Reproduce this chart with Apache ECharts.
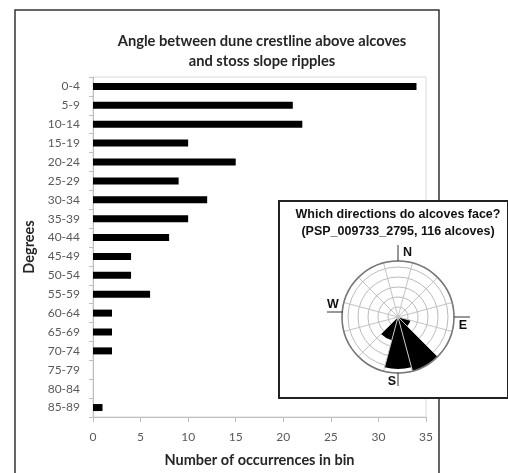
<!DOCTYPE html>
<html><head><meta charset="utf-8">
<script src="https://cdn.jsdelivr.net/npm/echarts@6/dist/echarts.min.js"></script>
<style>html,body{margin:0;padding:0;background:#fff}#c{width:508px;height:473px}</style>
</head><body><div id="c"></div>
<script>
const categories = ['0-4','5-9','10-14','15-19','20-24','25-29','30-34','35-39','40-44','45-49','50-54','55-59','60-64','65-69','70-74','75-79','80-84','85-89'];
const counts = [34,21,22,10,15,9,12,10,8,4,4,6,2,2,2,0,0,1];
const xMin = 0, xMax = 35, xStep = 5;
const titleLines = ['Angle between dune crestline above alcoves','and stoss slope ripples'];
const xName = 'Number of occurrences in bin';
const yName = 'Degrees';
const insetTitle = ['Which directions do alcoves face?','(PSP_009733_2795, 116 alcoves)'];
const roseBins = ['0','30','60','90','120','150','180','210','240','270','300','330'];
const roseValues = [0,0,0,0,1.3,5.6,5.2,2.4,0,0,0,0];
const roseMax = 5.6;

const chart = echarts.init(document.getElementById('c'), null, {renderer:'canvas'});
const insetFont = {fontFamily:'Liberation Sans', fontWeight:'bold', fontSize:12.5, fill:'#111'};
const compassLine = {stroke:'#333', lineWidth:1};
chart.setOption({
  animation:false,
  backgroundColor:'#fff',
  title:{text:titleLines.join('\n'), left:257, top:26, textAlign:'center',
    textStyle:{fontFamily:'Lato', fontWeight:'bold', fontSize:14.7, color:'#262626', lineHeight:20}},
  grid:{left:93, top:77, right:82, bottom:54, show:true, borderColor:'#d9d9d9', borderWidth:1, backgroundColor:'transparent'},
  xAxis:{type:'value', min:xMin, max:xMax, interval:xStep,
    name:xName, nameLocation:'middle', nameGap:36,
    nameTextStyle:{fontFamily:'Lato', fontWeight:'bold', fontSize:14.5, color:'#262626'},
    axisLine:{show:true, lineStyle:{color:'#bfbfbf'}},
    axisTick:{show:true, length:5, lineStyle:{color:'#bfbfbf'}},
    axisLabel:{margin:14, fontFamily:'Lato', fontSize:12, color:'#595959'},
    splitLine:{show:false}},
  yAxis:{type:'category', data:categories, inverse:true,
    name:yName, nameLocation:'middle', nameGap:50, nameRotate:90,
    nameTextStyle:{fontFamily:'Lato', fontWeight:'bold', fontSize:14.5, color:'#262626'},
    axisLine:{show:true, lineStyle:{color:'#bfbfbf'}},
    axisTick:{show:true, length:4, lineStyle:{color:'#bfbfbf'}},
    axisLabel:{margin:13, fontFamily:'Lato', fontSize:12, color:'#595959'}},
  polar:{center:[398,317], radius:56},
  angleAxis:{type:'category', data:roseBins, startAngle:105, clockwise:true, z:6,
    axisLine:{show:true, lineStyle:{color:'#777', width:1.5}},
    axisTick:{show:false}, axisLabel:{show:false},
    splitLine:{show:true, lineStyle:{color:'#c4c4c4', width:1}}},
  radiusAxis:{type:'value', min:0, max:roseMax, interval:1, z:4,
    axisLine:{show:false}, axisTick:{show:false}, axisLabel:{show:false},
    splitLine:{show:true, lineStyle:{color:'#bbb', width:1}}},
  series:[
    {type:'bar', xAxisIndex:0, yAxisIndex:0, data:counts, barWidth:7,
      itemStyle:{color:'#000'}, z:2},
    {type:'bar', coordinateSystem:'polar', data:roseValues, barWidth:'100%', barCategoryGap:'0%', z:5,
      itemStyle:{color:'#000'}}
  ],
  graphic:[
    {type:'rect', z:1, shape:{x:15, y:10, width:424, height:520}, style:{fill:'none', stroke:'#333', lineWidth:1.5}},
    {type:'rect', z:3, shape:{x:279, y:201, width:229, height:197}, style:{fill:'#fff', stroke:'#222', lineWidth:2}},
    {type:'text', z:7, x:398, y:215, style:Object.assign({text:insetTitle[0], align:'center', verticalAlign:'middle'}, insetFont)},
    {type:'text', z:7, x:398, y:232, style:Object.assign({text:insetTitle[1], align:'center', verticalAlign:'middle'}, insetFont)},
    {type:'line', z:7, shape:{x1:398, y1:245, x2:398, y2:261}, style:compassLine},
    {type:'text', z:7, x:403, y:253, style:Object.assign({text:'N', align:'left', verticalAlign:'middle'}, insetFont)},
    {type:'line', z:7, shape:{x1:327, y1:312, x2:343, y2:312}, style:compassLine},
    {type:'text', z:7, x:333, y:311, style:Object.assign({text:'W', align:'center', verticalAlign:'bottom'}, insetFont)},
    {type:'line', z:7, shape:{x1:454, y1:317, x2:470, y2:317}, style:compassLine},
    {type:'text', z:7, x:463, y:319, style:Object.assign({text:'E', align:'center', verticalAlign:'top'}, insetFont)},
    {type:'line', z:7, shape:{x1:398, y1:373, x2:398, y2:386}, style:compassLine},
    {type:'text', z:7, x:396, y:382, style:Object.assign({text:'S', align:'right', verticalAlign:'middle'}, insetFont)}
  ]
});
</script></body></html>
